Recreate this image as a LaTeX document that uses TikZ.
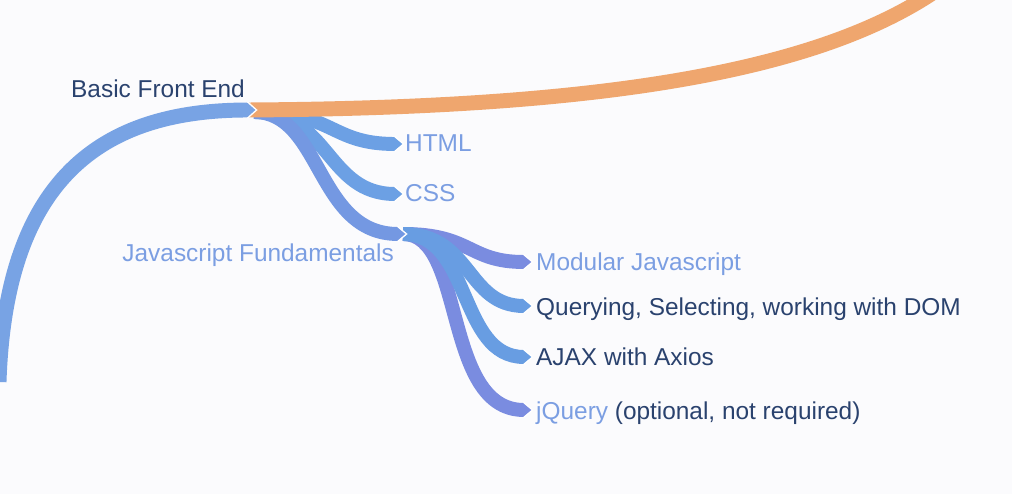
\documentclass[tikz,border=0pt]{standalone}
\usepackage{fontspec}
\setmainfont{Liberation Sans}
\begin{document}
\begin{tikzpicture}[x=1bp,y=-1bp,
  lbl/.style={inner sep=0pt, anchor=base west, font=\fontsize{24.5}{28}\selectfont},
  dark/.style={text=navy},
  light/.style={text=lightlbl},
  band/.style={line width=#1, line cap=butt}]
\definecolor{bg}{RGB}{251,251,253}
\definecolor{navy}{RGB}{42,66,110}
\definecolor{lightlbl}{RGB}{123,158,226}
\definecolor{rootblue}{RGB}{120,163,228}
\definecolor{orangeb}{RGB}{239,166,110}
\definecolor{brblue}{RGB}{108,160,228}
\definecolor{jsblue}{RGB}{116,152,226}
\definecolor{purp}{RGB}{122,140,224}
\definecolor{qblue}{RGB}{104,157,226}
\newcommand{\ribtip}[3]{%
  \fill[#3, shift={(#1)}] (-8.5,-#2/2) -- (0,0) -- (-8.5,#2/2) -- cycle;
  \draw[white, line width=1.3bp, line join=miter, shift={(#1)}] (-8.5,-#2/2-0.6) -- (0.6,0) -- (-8.5,#2/2+0.6);}
\fill[bg] (0,0) rectangle (1012,494);
\useasboundingbox (0,0) rectangle (1012,494);
\clip (0,0) rectangle (1012,494);
% labels
\node[lbl, dark] (bfe) at (71,98) {Basic Front End};
\node[lbl, light] (html) at (405,152) {HTML};
\node[lbl, light] (css) at (405,202) {CSS};
\node[lbl, light, anchor=base east] (js) at (394,262) {Javascript Fundamentals};
\node[lbl, light] (mod) at (536,271) {Modular Javascript};
\node[lbl, dark] (qry) at (536,316) {Querying, Selecting, working with DOM};
\node[lbl, dark] (ajax) at (536,366) {AJAX with Axios};
\node[lbl] (jq) at (536,419) {\textcolor{lightlbl}{jQuery} \textcolor{navy}{(optional, not required)}};
% anchor points of the ribbons
\coordinate (root0) at (-1,382);
\coordinate (bfeT) at (256,110);
\coordinate (bfeO) at (247,110);
\coordinate (bfeS) at (254,112);
\coordinate (orangeE) at (940,-12);
\coordinate (htmlT) at (403,144);
\coordinate (cssT) at (403,194);
\coordinate (jsT) at (406,234);
\coordinate (jsS) at (403,234);
\coordinate (modT) at (532,262);
\coordinate (qryT) at (532,306);
\coordinate (ajaxT) at (532,357);
\coordinate (jqT) at (532,410);
% level 2
\draw[band=14, purp] (jsS) .. controls (466,234) and (442,410) .. ([xshift=-8]jqT);
\ribtip{jqT}{14}{purp}
\draw[band=14, purp] (jsS) .. controls (472,234) and (468,262) .. ([xshift=-8]modT);
\ribtip{modT}{14}{purp}
\draw[band=14, qblue] (jsS) .. controls (472,234) and (458,357) .. ([xshift=-8]ajaxT);
\ribtip{ajaxT}{14}{qblue}
\draw[band=14, qblue] (jsS) .. controls (472,234) and (466,306) .. ([xshift=-8]qryT);
\ribtip{qryT}{14}{qblue}
% level 1
\draw[band=14, brblue] (bfeS) .. controls (335,112) and (330,144) .. ([xshift=-8]htmlT);
\ribtip{htmlT}{14}{brblue}
\draw[band=14, brblue] (bfeS) .. controls (330,112) and (326,194) .. ([xshift=-8]cssT);
\ribtip{cssT}{14}{brblue}
\draw[band=14, jsblue] (bfeS) .. controls (322,112) and (316,234) .. ([xshift=-8]jsT);
\ribtip{jsT}{14}{jsblue}
% orange main
\draw[band=15, orangeb] (bfeO) .. controls (600,108) and (820,72) .. (orangeE);
% root
\draw[band=15, rootblue] (root0) .. controls (6,170) and (110,110) .. ([xshift=-8]bfeT);
\ribtip{bfeT}{15}{rootblue}
\end{tikzpicture}
\end{document}
